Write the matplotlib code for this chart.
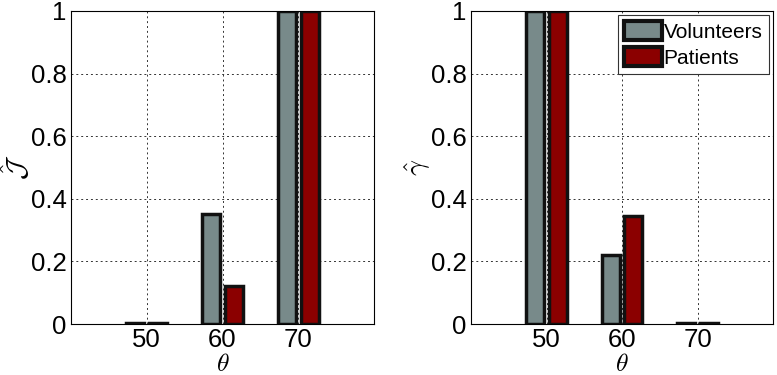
import numpy as np
import matplotlib.pyplot as plt

plt.rcParams['font.family'] = ['Liberation Sans', 'DejaVu Sans']
plt.rcParams['mathtext.fontset'] = 'cm'

theta = [50, 60, 70]
j_volunteers = [0.003, 0.35, 1.0]
j_patients = [0.004, 0.12, 1.0]
g_volunteers = [1.0, 0.22, 0.003]
g_patients = [1.0, 0.345, 0.003]

grey = '#788a8a'
red = '#8b0000'

fig = plt.figure(figsize=(7.77, 3.75), dpi=100)
ax1 = fig.add_axes([71 / 777, 1 - 324 / 375, 303 / 777, 313 / 375])
ax2 = fig.add_axes([471 / 777, 1 - 324 / 375, 302 / 777, 313 / 375])


def draw(ax, vol, pat, ylabel, legend=False):
    x = np.array(theta, dtype=float)
    ax.bar(x - 1.5, vol, width=2.4, color=grey, edgecolor='#111111',
           linewidth=2.5, label='Volunteers', zorder=3)
    ax.bar(x + 1.5, pat, width=2.4, color=red, edgecolor='#111111',
           linewidth=2.5, label='Patients', zorder=3)
    ax.set_xlim(40, 80)
    ax.set_ylim(0, 1)
    ax.set_xticks(theta)
    ax.set_yticks([0, 0.2, 0.4, 0.6, 0.8, 1])
    ax.set_yticklabels(['0', '0.2', '0.4', '0.6', '0.8', '1'])
    ax.grid(True, color='#333333', linestyle=(0, (2, 3)), linewidth=0.7, zorder=4)
    ax.set_axisbelow(False)
    ax.tick_params(labelsize=18.5, length=0)
    ax.tick_params(axis='x', pad=3)
    ax.tick_params(axis='y', pad=3)
    for s in ax.spines.values():
        s.set_linewidth(0.8)
        s.set_zorder(5)
    ax.set_xlabel(r'$\theta$', fontsize=18.5)
    ax.xaxis.set_label_coords(0.5, -0.088)
    ax.set_ylabel(ylabel, fontsize=20)
    ax.yaxis.set_label_coords(-0.126, 0.5)
    if legend:
        leg = ax.legend(loc='upper right', fontsize=15, fancybox=False, edgecolor='#333333',
                        framealpha=1, handlelength=1.8, handleheight=1.0, handletextpad=0.1,
                        borderaxespad=0.2, borderpad=0.3, labelspacing=0.25)
        leg.get_frame().set_linewidth(0.8)
        for h in leg.legend_handles:
            h.set_linewidth(3)


draw(ax1, j_volunteers, j_patients, r'$\hat{\mathcal{J}}$')
draw(ax2, g_volunteers, g_patients, r'$\hat{\gamma}$', legend=True)

plt.savefig('out.png', dpi=100)
